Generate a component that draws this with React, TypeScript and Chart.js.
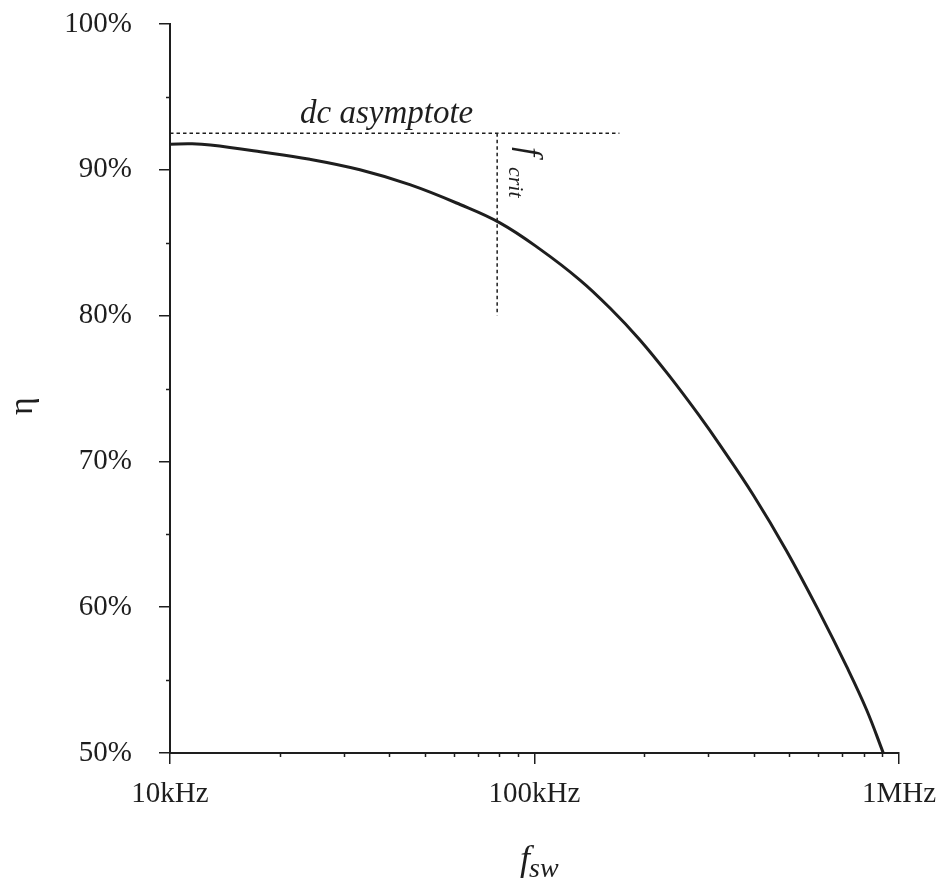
import React, { useEffect, useRef } from 'react';
import { Chart, registerables } from 'chart.js';

Chart.register(...registerables);

// Efficiency curve (frequency in kHz, efficiency in %)
const freqKHz = [10, 11.5, 12.9, 17.7, 24.2, 33.2, 45.5, 62.5, 80.4, 103.5, 133.3, 161.1, 194.7, 235.3, 284.5, 322.9, 398.4, 491.8, 607.3, 718.8, 815.5, 905.8];
const efficiency = [91.76, 91.78, 91.7, 91.24, 90.72, 90.0, 88.98, 87.62, 86.36, 84.56, 82.44, 80.52, 78.33, 75.81, 73.07, 71.12, 67.7, 63.86, 59.58, 55.92, 52.95, 50.0];

// dc asymptote and critical frequency markers
const asymptoteFreq = [10, 171];
const asymptoteEta = [92.5, 92.5];
const critFreq = [79, 79];
const critEta = [92.5, 80];

// Ticks
const xTickValues = [10, 100, 1000];
const xTickLabels = ['10kHz', '100kHz', '1MHz'];
const xMinorTicks = [20, 30, 40, 50, 60, 70, 80, 90, 200, 300, 400, 500, 600, 700, 800, 900];
const yTickValues = [50, 60, 70, 80, 90, 100];
const yMinorTicks = [55, 65, 75, 85, 95];

const INK = '#1e1e1e';
const SERIF = "'Liberation Serif', 'Times New Roman', serif";

const decorPlugin = {
  id: 'decor',
  afterDraw(chart: any) {
    const ctx = chart.ctx as CanvasRenderingContext2D;
    const xs = chart.scales.x;
    const ys = chart.scales.y;
    const area = chart.chartArea;
    ctx.save();
    ctx.strokeStyle = INK;
    ctx.lineWidth = 1.5;
    // minor ticks
    ctx.beginPath();
    xMinorTicks.forEach((v) => {
      const px = Math.round(xs.getPixelForValue(v)) + 0.5;
      ctx.moveTo(px, area.bottom);
      ctx.lineTo(px, area.bottom + 4);
    });
    yMinorTicks.forEach((v) => {
      const py = Math.round(ys.getPixelForValue(v)) + 0.5;
      ctx.moveTo(area.left, py);
      ctx.lineTo(area.left - 4, py);
    });
    ctx.stroke();

    ctx.fillStyle = INK;
    // dc asymptote label
    ctx.font = `italic 33px ${SERIF}`;
    ctx.textAlign = 'left';
    ctx.textBaseline = 'alphabetic';
    ctx.fillText('dc asymptote', 300, 123);

    // f_crit label (rotated clockwise)
    ctx.save();
    ctx.translate(519, 147);
    ctx.rotate(Math.PI / 2);
    ctx.font = `italic 33px ${SERIF}`;
    ctx.fillText('f', 0, 0);
    ctx.font = `italic 22px ${SERIF}`;
    ctx.fillText('crit', 20, 10);
    ctx.restore();

    // x axis title f_sw
    ctx.font = `italic 36px ${SERIF}`;
    ctx.fillText('f', 520, 870);
    ctx.font = `italic 28px ${SERIF}`;
    ctx.fillText('sw', 529, 877);

    // y axis title eta
    ctx.save();
    ctx.translate(32, 406);
    ctx.rotate(-Math.PI / 2);
    ctx.textAlign = 'center';
    ctx.font = `34px ${SERIF}`;
    ctx.fillText('η', 0, 0);
    ctx.restore();

    ctx.restore();
  },
};

export default function App() {
  const ref = useRef<HTMLCanvasElement | null>(null);

  useEffect(() => {
    if (!ref.current) return;
    const chart = new Chart(ref.current, {
      type: 'line',
      data: {
        datasets: [
          {
            data: freqKHz.map((f, i) => ({ x: f, y: efficiency[i] })),
            borderColor: INK,
            borderWidth: 3,
            pointRadius: 0,
            tension: 0.4,
            fill: false,
          },
          {
            data: asymptoteFreq.map((f, i) => ({ x: f, y: asymptoteEta[i] })),
            borderColor: INK,
            borderWidth: 1.5,
            borderDash: [3.5, 3],
            pointRadius: 0,
            fill: false,
          },
          {
            data: critFreq.map((f, i) => ({ x: f, y: critEta[i] })),
            borderColor: INK,
            borderWidth: 1.5,
            borderDash: [3.5, 3],
            pointRadius: 0,
            fill: false,
          },
        ],
      },
      options: {
        animation: false,
        responsive: false,
        layout: { padding: { top: 24, right: 50, left: 0, bottom: 0 } },
        plugins: { legend: { display: false }, tooltip: { enabled: false } },
        scales: {
          x: {
            type: 'logarithmic',
            min: 10,
            max: 1000,
            afterBuildTicks: (scale: any) => {
              scale.ticks = xTickValues.map((v) => ({ value: v }));
            },
            afterFit: (scale: any) => {
              scale.height = 130;
            },
            ticks: {
              callback: (v: any) => {
                const i = xTickValues.indexOf(Number(v));
                return i >= 0 ? xTickLabels[i] : '';
              },
              font: { family: SERIF, size: 29 },
              color: INK,
              padding: 13,
              maxRotation: 0,
              autoSkip: false,
            },
            grid: { drawOnChartArea: false, drawTicks: true, tickLength: 11, color: INK, lineWidth: 1.5 },
            border: { display: true, color: INK, width: 2 },
          },
          y: {
            type: 'linear',
            min: 50,
            max: 100,
            afterBuildTicks: (scale: any) => {
              scale.ticks = yTickValues.map((v) => ({ value: v }));
            },
            afterFit: (scale: any) => {
              scale.width = 170;
              scale.paddingTop = 0;
              scale.paddingBottom = 0;
            },
            ticks: {
              callback: (v: any) => `${v}%`,
              font: { family: SERIF, size: 29 },
              color: INK,
              padding: 27,
            },
            grid: { drawOnChartArea: false, drawTicks: true, tickLength: 11, color: INK, lineWidth: 1.5 },
            border: { display: true, color: INK, width: 2 },
          },
        },
      },
      plugins: [decorPlugin],
    } as any);
    return () => chart.destroy();
  }, []);

  return (
    <div style={{ position: 'fixed', left: 0, top: 0, width: 949, height: 883, background: '#fff' }}>
      <canvas ref={ref} width={949} height={883} />
    </div>
  );
}
